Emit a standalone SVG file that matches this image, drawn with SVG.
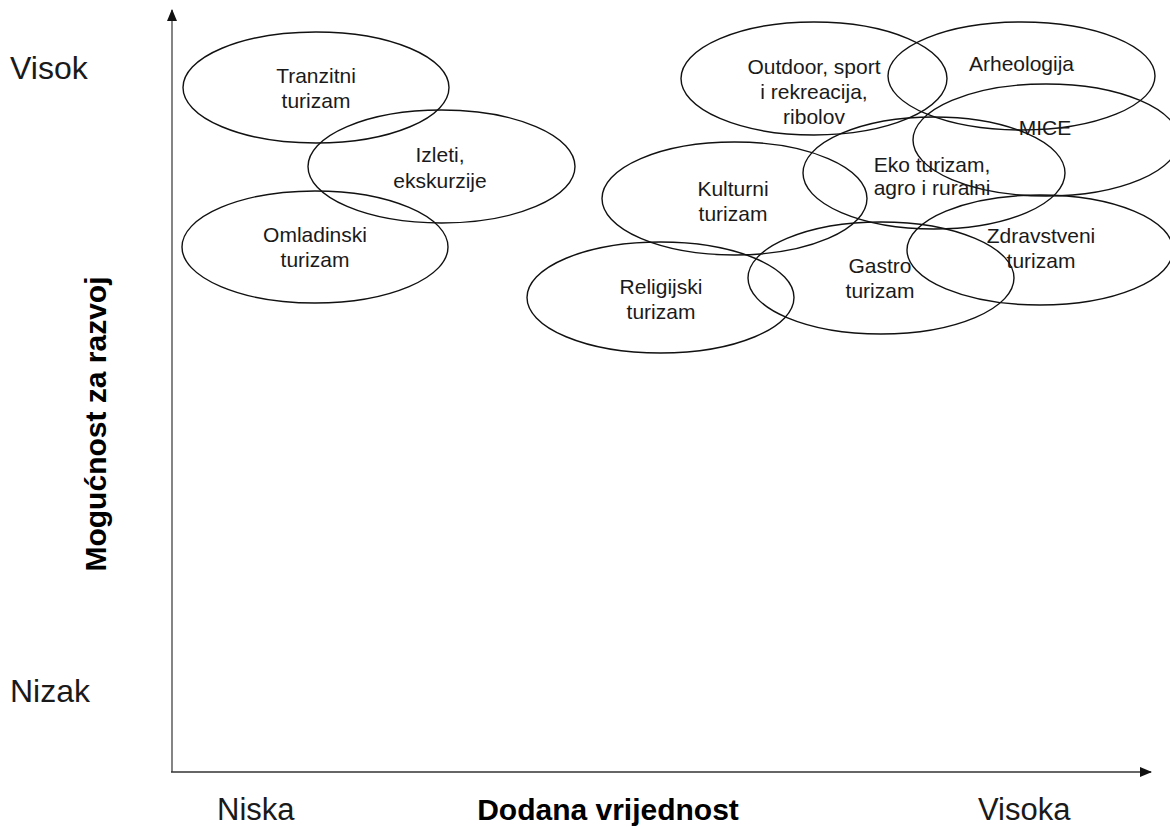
<svg xmlns="http://www.w3.org/2000/svg" width="1170" height="827" viewBox="0 0 1170 827">
<style>
.e{fill:none;stroke:#111;stroke-width:1.4}
.t{font-family:"Liberation Sans",Arial,sans-serif;font-size:21px;fill:#1a1a1a;text-anchor:middle}
.ax{font-family:"Liberation Sans",Arial,sans-serif;font-size:31px;fill:#1a1a1a}
.axl{font-family:"Liberation Sans",Arial,sans-serif;font-size:32px;fill:#1a1a1a}
.axb{font-family:"Liberation Sans",Arial,sans-serif;font-size:30px;font-weight:bold;fill:#000}
</style>
<defs>
<marker id="ah" markerWidth="12" markerHeight="10" refX="11" refY="5" orient="auto" markerUnits="userSpaceOnUse">
<path d="M0,0 L12,5 L0,10 Z" fill="#111"/>
</marker>
</defs>
<rect width="1170" height="827" fill="#fff"/>
<g id="connectors">
<line x1="172" y1="772" x2="172" y2="10" stroke="#666" stroke-width="1.6" marker-end="url(#ah)"/>
<line x1="171" y1="772" x2="1151" y2="772" stroke="#333" stroke-width="1.6" marker-end="url(#ah)"/>
</g>
<g id="axis-labels">
<text class="axl" x="10" y="79">Visok</text>
<text class="axl" x="10" y="702">Nizak</text>
<text class="ax" x="217" y="820">Niska</text>
<text class="axb" x="608" y="820" text-anchor="middle">Dodana vrijednost</text>
<text class="ax" x="978" y="820">Visoka</text>
<text class="axb" transform="translate(106,424) rotate(-90)" text-anchor="middle">Mogućnost za razvoj</text>
</g>
<g id="tranzitni"><ellipse class="e" cx="316" cy="87.5" rx="133" ry="55.5"/><text class="t" x="316" y="83">Tranzitni</text><text class="t" x="316" y="108">turizam</text></g>
<g id="izleti"><ellipse class="e" cx="441.5" cy="166.5" rx="133.5" ry="56.5"/><text class="t" x="440" y="162">Izleti,</text><text class="t" x="440" y="188">ekskurzije</text></g>
<g id="omladinski"><ellipse class="e" cx="315" cy="247" rx="133" ry="56"/><text class="t" x="315" y="242">Omladinski</text><text class="t" x="315" y="267">turizam</text></g>
<g id="outdoor"><ellipse class="e" cx="814" cy="78.5" rx="133" ry="56.5"/><text class="t" x="814" y="74">Outdoor, sport</text><text class="t" x="814" y="99">i rekreacija,</text><text class="t" x="814" y="124">ribolov</text></g>
<g id="arheologija"><ellipse class="e" cx="1021.5" cy="76" rx="133.5" ry="54"/><text class="t" x="1021.5" y="71">Arheologija</text></g>
<g id="mice"><ellipse class="e" cx="1046" cy="140" rx="133" ry="56"/><text class="t" x="1045" y="135">MICE</text></g>
<g id="eko"><ellipse class="e" cx="934" cy="173" rx="131" ry="56"/><text class="t" x="932" y="172">Eko turizam,</text><text class="t" x="932" y="195">agro i ruralni</text></g>
<g id="kulturni"><ellipse class="e" cx="734.5" cy="198.5" rx="132.5" ry="56.5"/><text class="t" x="733" y="196">Kulturni</text><text class="t" x="733" y="221">turizam</text></g>
<g id="zdravstveni"><ellipse class="e" cx="1040" cy="250" rx="133" ry="55"/><text class="t" x="1041" y="243">Zdravstveni</text><text class="t" x="1041" y="268">turizam</text></g>
<g id="gastro"><ellipse class="e" cx="881" cy="278" rx="133" ry="56"/><text class="t" x="880" y="273">Gastro</text><text class="t" x="880" y="298">turizam</text></g>
<g id="religijski"><ellipse class="e" cx="660.5" cy="297.5" rx="133.5" ry="55.5"/><text class="t" x="661" y="294">Religijski</text><text class="t" x="661" y="319">turizam</text></g>
</svg>
